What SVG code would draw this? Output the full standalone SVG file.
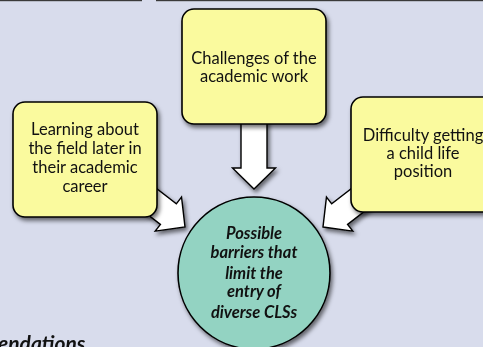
<svg xmlns="http://www.w3.org/2000/svg" width="483" height="347" viewBox="0 0 483 347">
  <defs>
    <filter id="shadow" x="-20%" y="-20%" width="150%" height="150%">
      <feDropShadow dx="2" dy="3" stdDeviation="2.2" flood-color="#000" flood-opacity="0.55"/>
    </filter>
    <!-- block arrow pointing along +x, tip at the origin -->
    <path id="blockArrow" d="M0,0 L-21,-21.5 L-21,-13 L-78,-13 L-78,13 L-21,13 L-21,21.5 Z"/>
  </defs>
  <style>
    .box { fill: #FAFA9E; stroke: #000; stroke-width: 1.6; }
    .hub { fill: #93D3C2; stroke: #000; stroke-width: 1.6; }
    .arrow { fill: #FFFFFF; stroke: #000; stroke-width: 1.4; stroke-linejoin: miter; }
    .label { font-family: Lato, "Open Sans", "Liberation Sans", sans-serif; font-size: 16.5px; fill: #111; text-anchor: middle; }
    .hubLabel { font-family: Lato, "Open Sans", "Liberation Sans", sans-serif; font-size: 16.5px; font-weight: bold; font-style: italic; fill: #111; text-anchor: middle; }
    .heading { font-family: Lato, "Open Sans", "Liberation Sans", sans-serif; font-size: 21px; font-weight: bold; font-style: italic; fill: #111; }
  </style>

  <!-- page background -->
  <rect x="0" y="0" width="483" height="347" fill="#D8DCEC"/>
  <rect x="0" y="0" width="142" height="1.2" fill="#3A3A3A"/>
  <rect x="156" y="0" width="327" height="1.2" fill="#3A3A3A"/>

  <!-- connectors -->
  <g id="connectors" filter="url(#shadow)">
    <use href="#blockArrow" class="arrow" transform="translate(254,189) rotate(90)"/>
    <use href="#blockArrow" class="arrow" transform="translate(185,227) rotate(37.7)"/>
    <use href="#blockArrow" class="arrow" transform="translate(323,227) rotate(142.3)"/>
  </g>

  <g id="node-academic-work">
    <rect class="box" x="182" y="9" width="144" height="115" rx="12" filter="url(#shadow)"/>
    <text class="label" x="254" y="64">Challenges of the</text>
    <text class="label" x="254" y="82">academic work</text>
  </g>

  <g id="node-learning-later">
    <rect class="box" x="13" y="102" width="144" height="115" rx="12" filter="url(#shadow)"/>
    <text class="label" x="85" y="135">Learning about</text>
    <text class="label" x="85" y="154">the field later in</text>
    <text class="label" x="85" y="173">their academic</text>
    <text class="label" x="85" y="192">career</text>
  </g>

  <g id="node-position">
    <rect class="box" x="351" y="97" width="144" height="115" rx="12" filter="url(#shadow)"/>
    <text class="label" x="423" y="141">Difficulty getting</text>
    <text class="label" x="423" y="159">a child life</text>
    <text class="label" x="423" y="177">position</text>
  </g>

  <g id="node-barriers">
    <circle class="hub" cx="254" cy="273" r="76" filter="url(#shadow)"/>
    <text class="hubLabel" x="254" y="239">Possible</text>
    <text class="hubLabel" x="254" y="258">barriers that</text>
    <text class="hubLabel" x="254" y="279">limit the</text>
    <text class="hubLabel" x="254" y="297">entry of</text>
    <text class="hubLabel" x="254" y="318">diverse CLSs</text>
  </g>

  <text class="heading" x="-2" y="351">endations</text>
</svg>
